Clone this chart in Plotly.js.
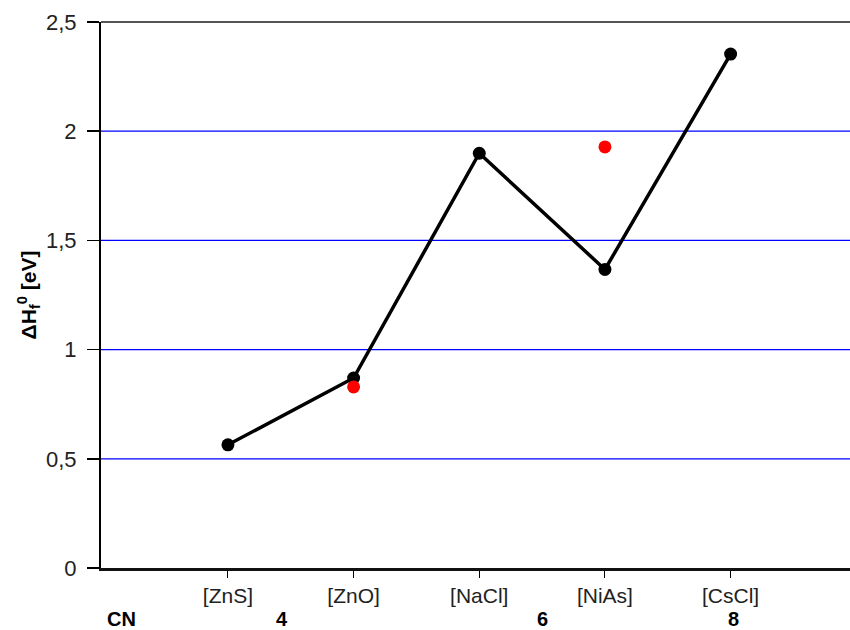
<!DOCTYPE html>
<html>
<head>
<meta charset="utf-8">
<script src="https://cdn.plot.ly/plotly-3.0.1.min.js"></script>
<style>
  html, body { margin: 0; padding: 0; background: #fff; }
  #chart { width: 850px; height: 630px; }
</style>
</head>
<body>
<div id="chart"></div>
<script>
// Structure types, ordered by coordination number
const structures = ['[ZnS]', '[ZnO]', '[NaCl]', '[NiAs]', '[CsCl]'];
const structIndex = [0, 1, 2, 3, 4];

// Formation enthalpy per structure (eV), connected series
const dHf = [0.564, 0.870, 1.899, 1.367, 2.353];

// Second set of values, only available for two structures
const altStructIndex = [1, 3];
const altDHf = [0.829, 1.928];

// Coordination number labels under the axis
const cnLabels = ['CN', '4', '6', '8'];
const cnPos = [-0.85, 0.43, 2.5, 4.02];

// Horizontal reference lines across the plot
const gridVals = [0.5, 1, 1.5, 2];

const FONT = 'Liberation Sans, Arial, sans-serif';

const traces = [
  {
    x: structIndex, y: dHf,
    type: 'scatter', mode: 'lines+markers',
    line: { color: '#000', width: 3.5 },
    marker: { color: '#000', size: 13 },
    hoverinfo: 'skip', showlegend: false
  },
  {
    x: altStructIndex, y: altDHf,
    type: 'scatter', mode: 'markers',
    marker: { color: '#ff0000', size: 13 },
    hoverinfo: 'skip', showlegend: false
  }
];

const annotations = cnLabels.map((t, i) => ({
  text: t, x: cnPos[i], xref: 'x', y: 0, yref: 'paper',
  yshift: -51, showarrow: false, borderpad: 0,
  font: { family: FONT, size: 20, color: '#000', weight: 'bold' },
  xanchor: 'center', yanchor: 'middle'
}));

const gridShapes = gridVals.map(v => ({
  type: 'line', layer: 'below',
  xref: 'paper', x0: 0, x1: 1,
  yref: 'y', y0: v, y1: v,
  line: { color: '#0000ff', width: 1.3 }
}));

const layout = {
  width: 850, height: 630,
  margin: { l: 101, r: 0, t: 22, b: 62 },
  paper_bgcolor: '#fff', plot_bgcolor: '#fff',
  separators: ',.',
  font: { family: FONT, color: '#222' },
  xaxis: {
    range: [-1.01, 4.95],
    tickvals: structIndex, ticktext: structures,
    ticks: 'outside', ticklen: 7, tickwidth: 1, tickcolor: '#000',
    tickfont: { family: FONT, size: 21, color: '#222' },
    showgrid: false, zeroline: false,
    showline: true, linecolor: '#111', linewidth: 2.5
  },
  yaxis: {
    range: [0, 2.5],
    tickmode: 'linear', dtick: 0.5, tick0: 0,
    ticks: 'outside', ticklen: 12, tickwidth: 1.5, tickcolor: '#000',
    ticklabelstandoff: 6,
    tickfont: { family: FONT, size: 22, color: '#222' },
    showgrid: false,
    zeroline: false,
    showline: true, linecolor: '#000', linewidth: 2,
    title: {
      text: 'ΔH<sub>f</sub><sup>0</sup> [eV]',
      font: { family: FONT, size: 21, color: '#000', weight: 'bold' },
      standoff: 4
    }
  },
  // short minor ticks every 0.1 on the left axis
  yaxis2: {
    overlaying: 'y', matches: 'y', side: 'left',
    range: [0, 2.5],
    tickmode: 'linear', dtick: 0.1, tick0: 0,
    ticks: 'outside', ticklen: 6, tickwidth: 1.5, tickcolor: '#000',
    showticklabels: false, showgrid: false, zeroline: false, showline: false
  },
  shapes: gridShapes.concat([{
    type: 'line', xref: 'paper', yref: 'paper',
    x0: 0, x1: 1, y0: 1, y1: 1,
    line: { color: '#555', width: 2 }
  }]),
  annotations: annotations
};

Plotly.newPlot('chart', traces, layout, { staticPlot: true, displayModeBar: false });
</script>
</body>
</html>
